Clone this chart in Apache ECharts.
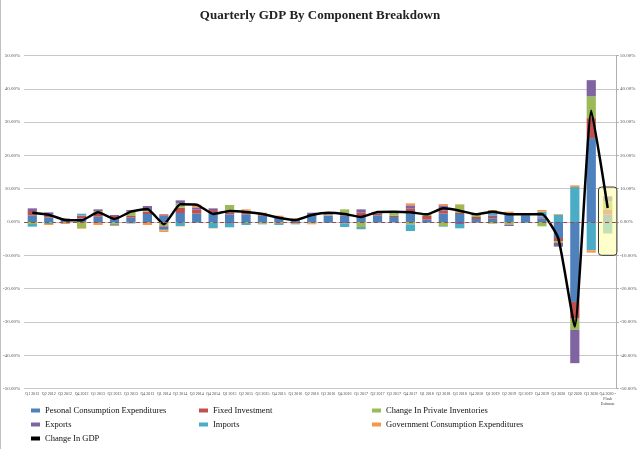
<!DOCTYPE html>
<html><head><meta charset="utf-8">
<script src="https://cdn.jsdelivr.net/npm/echarts@6/dist/echarts.min.js"></script>
<style>html,body{margin:0;padding:0;background:#fff}#c{width:640px;height:449px}</style>
</head><body><div id="c"></div>
<script>
const categories = ['Q1 2012','Q2 2012','Q3 2012','Q4 2012','Q1 2013','Q2 2013','Q3 2013','Q4 2013',
 'Q1 2014','Q2 2014','Q3 2014','Q4 2014','Q1 2015','Q2 2015','Q3 2015','Q4 2015',
 'Q1 2016','Q2 2016','Q3 2016','Q4 2016','Q1 2017','Q2 2017','Q3 2017','Q4 2017',
 'Q1 2018','Q2 2018','Q3 2018','Q4 2018','Q1 2019','Q2 2019','Q3 2019','Q4 2019',
 'Q1 2020','Q2 2020','Q3 2020','Q4 2020 -\nFlash\nEstimate'];
const pce      = [2.0, 1.4, 0.7, 1.1, 1.6, 1.2, 1.3, 2.4, 1.9, 2.7, 2.5, 3.0, 2.3, 2.3, 1.9, 1.4, 0.9, 2.4, 1.8, 2.0, 1.4, 2.0, 1.5, 2.7, 0.7, 2.5, 2.4, 0.9, 1.0, 2.6, 2.0, 1.1, -4.8, -24.0, 25.2, 2.2];
const fixedInv = [1.3, 0.9, 0.3, 0.8, 0.8, 0.6, 0.5, 0.7, 0.4, 1.6, 1.2, 0.6, 0.6, 0.9, 0.4, 0.1, -0.3, 0.0, 0.1, 0.4, 1.4, 0.5, 0.4, 1.3, 1.1, 0.9, 0.3, 0.6, 0.5, -0.1, 0.1, 0.2, -1.0, -5.0, 6.0, 1.6];
const inventories = [-0.6, -0.3, -0.2, -1.8, 0.9, -0.4, 1.3, 0.2, -1.3, 1.3, -0.1, -0.2, 2.2, -0.3, -0.5, -0.4, -0.2, -0.4, 0.3, 1.4, -1.5, 0.1, 0.9, -0.7, 0.3, -1.2, 2.4, 0.8, -0.5, -0.7, -0.1, -1.3, -0.5, -3.4, 6.5, 2.4];
const exportsC = [0.8, 0.6, 0.1, 0.1, 0.5, 0.3, 0.5, 1.5, -0.8, 0.9, 0.7, 0.5, -0.3, 0.2, 0.2, -0.2, -0.1, 0.4, 0.7, -0.4, 1.0, 0.4, 0.3, 1.0, 0.2, 1.6, -0.6, 0.3, 0.5, -0.4, 0.1, 0.3, -1.1, -10.0, 4.9, 1.5];
const importsC = [-0.8, -0.3, -0.1, 0.5, -0.3, -0.5, -0.4, -0.2, -0.4, -1.2, -0.2, -1.6, -1.3, -0.6, -0.2, -0.3, -0.1, -0.1, -0.3, -1.1, -0.6, -0.2, -0.1, -2.0, -0.2, -0.2, -1.3, -0.2, 0.8, 0.0, -0.2, 1.5, 2.2, 10.5, -8.5, -3.3];
const govC     = [0.0, -0.3, -0.3, -0.2, -0.6, -0.3, -0.1, -0.7, -0.5, -0.1, 0.8, -0.1, 0.0, 0.4, 0.3, 0.4, 0.2, -0.2, 0.0, 0.0, -0.1, 0.0, 0.0, 0.6, 0.0, 0.4, 0.2, -0.1, 0.8, 0.5, 0.3, 0.5, 0.2, 0.5, -0.7, -0.2];
const gdp      = [2.8, 2.2, 0.6, 0.5, 2.9, 0.9, 3.1, 3.9, -0.7, 5.3, 5.2, 2.4, 3.3, 3.0, 2.4, 1.3, 0.6, 2.1, 2.8, 2.4, 1.5, 3.0, 3.1, 2.9, 2.3, 4.1, 3.4, 2.3, 3.1, 2.3, 2.3, 2.4, -5.0, -31.4, 33.4, 4.2];
const highlightBox = [[35, 10.5, -10]];
const yTicks = {min: -50, max: 50, interval: 10};

const serif = 'Liberation Serif';
const chart = echarts.init(document.getElementById('c'), null, {renderer: 'canvas'});
function barSeries(name, data, color) {
  return {name, type: 'bar', stack: 'gdp', data, barWidth: '56%', z: 2,
    itemStyle: {color}, emphasis: {disabled: true}};
}
const series = [
  barSeries('Pesonal Consumption Expenditures', pce, '#4F81BD'),
  barSeries('Fixed Investment', fixedInv, '#C0504D'),
  barSeries('Change In Private Inventories', inventories, '#9BBB59'),
  barSeries('Exports', exportsC, '#8064A2'),
  barSeries('Imports', importsC, '#4BACC6'),
  barSeries('Government Consumption Expenditures', govC, '#F79646'),
];
series[0].markLine = {silent: true, symbol: 'none', label: {show: false},
  lineStyle: {color: '#9A4B4B', type: [4, 3], width: 1}, data: [{yAxis: 0}]};
series.push({name: 'box', type: 'custom', z: 3, silent: true, data: highlightBox,
  encode: {x: 0, y: [1, 2]},
  renderItem: function (params, api) {
    const idx = api.value(0);
    const p1 = api.coord([idx, api.value(1)]);
    const p2 = api.coord([idx, api.value(2)]);
    const w = api.size([1, 0])[0];
    return {type: 'rect', shape: {x: p1[0] - w / 2 - 1, y: p1[1], width: w + 2, height: p2[1] - p1[1], r: 3},
      style: {fill: 'rgba(255,255,175,0.65)', stroke: '#333', lineWidth: 1}};
  }});
series.push({name: 'Change In GDP', type: 'line', data: gdp, z: 4, symbol: 'none', smooth: 0.15,
  lineStyle: {color: '#000', width: 2.5}, itemStyle: {color: '#000'}});

const legendBase = {orient: 'vertical', itemWidth: 9, itemHeight: 4, itemGap: 3, top: 405, padding: 0,
  textStyle: {fontFamily: serif, fontSize: 8.5, color: '#111', lineHeight: 11}, icon: 'rect'};
chart.setOption({
  animation: false,
  title: {text: 'Quarterly GDP By Component Breakdown', left: 'center', top: 4,
    textStyle: {fontFamily: serif, fontSize: 13, fontWeight: 'bold', color: '#222'}},
  grid: {left: 23.5, right: 24, top: 55.5, bottom: 60.5, containLabel: false},
  legend: [
    Object.assign({}, legendBase, {left: 31, data: ['Pesonal Consumption Expenditures', 'Exports', {name: 'Change In GDP', icon: 'rect', itemStyle: {color: '#000'}}]}),
    Object.assign({}, legendBase, {left: 199, data: ['Fixed Investment', 'Imports']}),
    Object.assign({}, legendBase, {left: 372, data: ['Change In Private Inventories', 'Government Consumption Expenditures']}),
  ],
  xAxis: {type: 'category', data: categories, boundaryGap: true,
    axisLine: {show: false}, axisTick: {show: false},
    axisLabel: {interval: 0, fontSize: 4, fontFamily: serif, color: '#444', margin: 3, lineHeight: 5}},
  yAxis: [
    Object.assign({type: 'value', position: 'left',
      axisLine: {show: false}, axisTick: {show: false},
      splitLine: {lineStyle: {color: '#c8c8c8', width: 1}},
      axisLabel: {fontSize: 5, fontFamily: serif, color: '#555', margin: 4,
        formatter: v => v.toFixed(2) + '%'}}, yTicks),
    Object.assign({type: 'value', position: 'right',
      axisLine: {show: true, lineStyle: {color: '#b0b0b0'}}, axisTick: {show: true, length: 3, lineStyle: {color: '#b0b0b0'}},
      splitLine: {show: false},
      axisLabel: {fontSize: 5, fontFamily: serif, color: '#555', margin: 4,
        formatter: v => v.toFixed(2) + '%'}}, yTicks)
  ],
  graphic: [{type: 'line', shape: {x1: 0.5, y1: 0, x2: 0.5, y2: 449}, style: {stroke: '#c0c0c0', lineWidth: 1}}],
  series
});
</script></body></html>
